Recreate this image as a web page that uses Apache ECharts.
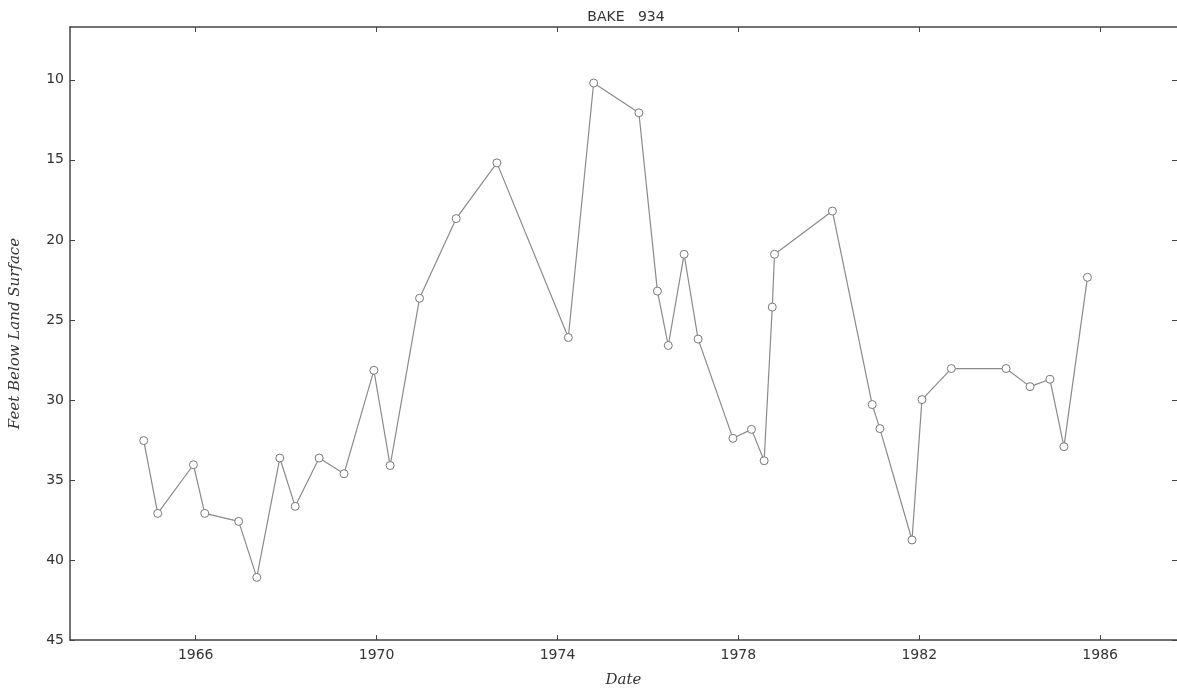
<!DOCTYPE html>
<html>
<head>
<meta charset="utf-8">
<title>BAKE 934</title>
<script src="https://cdn.jsdelivr.net/npm/echarts@6/dist/echarts.min.js"></script>
<style>
  html, body { margin: 0; padding: 0; background: #fff; }
  #chart { width: 1177px; height: 698px; }
</style>
</head>
<body>
<div id="chart"></div>
<script>
// decimal years of each measurement
const dates = [1964.85, 1965.16, 1965.95, 1966.2, 1966.95, 1967.35, 1967.86, 1968.2, 1968.73, 1969.28,
  1969.94, 1970.3, 1970.95, 1971.76, 1972.66, 1974.24, 1974.8, 1975.8, 1976.21, 1976.45,
  1976.8, 1977.11, 1977.88, 1978.29, 1978.57, 1978.75, 1978.8, 1980.08, 1980.96, 1981.13,
  1981.84, 1982.06, 1982.71, 1983.92, 1984.45, 1984.89, 1985.2, 1985.72]
// feet below land surface
const depths = [32.54, 37.09, 34.05, 37.09, 37.59, 41.09, 33.63, 36.65, 33.63, 34.61,
  28.15, 34.1, 23.65, 18.67, 15.19, 26.1, 10.2, 12.06, 23.2, 26.6,
  20.9, 26.2, 32.4, 31.84, 33.8, 24.2, 20.9, 18.2, 30.29, 31.79,
  38.75, 29.98, 28.04, 28.04, 29.17, 28.71, 32.92, 22.34]
const yearTicks = [1966, 1970, 1974, 1978, 1982, 1986]
const depthTicks = [10, 15, 20, 25, 30, 35, 40, 45]

const axisColor = '#444'
const labelFont = { color: '#333', fontSize: 14, fontFamily: 'DejaVu Sans' }
const nameFont = { color: '#333', fontSize: 15, fontStyle: 'italic', fontFamily: 'DejaVu Serif' }

const chart = echarts.init(document.getElementById('chart'))
const option = {
  animation: false,
  title: {
    text: 'BAKE   934',
    left: 621,
    textAlign: 'center',
    top: 5,
    textStyle: { color: '#333', fontSize: 14, fontWeight: 'normal', fontFamily: 'DejaVu Sans' }
  },
  grid: { left: 66, right: 0, top: 27, bottom: 58 },
  xAxis: [{
    type: 'value',
    min: 1963.22,
    max: 1987.7,
    name: 'Date',
    nameLocation: 'middle',
    nameGap: 33,
    nameTextStyle: nameFont,
    splitLine: { show: false },
    axisLine: { lineStyle: { color: axisColor, width: 1.5 } },
    axisTick: { inside: true, length: 5, customValues: yearTicks, lineStyle: { color: axisColor } },
    axisLabel: { customValues: yearTicks, margin: 8, formatter: v => String(v), ...labelFont }
  }, {
    type: 'value',
    position: 'top',
    min: 1963.22,
    max: 1987.7,
    splitLine: { show: false },
    axisLine: { lineStyle: { color: axisColor, width: 1.5 } },
    axisTick: { inside: true, length: 5, customValues: yearTicks, lineStyle: { color: axisColor } },
    axisLabel: { show: false }
  }],
  yAxis: [{
    type: 'value',
    inverse: true,
    min: 6.7,
    max: 45,
    name: 'Feet Below Land Surface',
    nameLocation: 'middle',
    nameGap: 47,
    nameTextStyle: nameFont,
    splitLine: { show: false },
    axisLine: { show: true, lineStyle: { color: axisColor, width: 1.5 } },
    axisTick: { show: true, inside: true, length: 5, customValues: depthTicks, lineStyle: { color: axisColor } },
    axisLabel: { customValues: depthTicks, margin: 6, formatter: v => String(v), ...labelFont }
  }, {
    type: 'value',
    position: 'right',
    inverse: true,
    min: 6.7,
    max: 45,
    splitLine: { show: false },
    axisLine: { show: false },
    axisTick: { show: true, inside: true, length: 5, customValues: depthTicks, lineStyle: { color: axisColor } },
    axisLabel: { show: false }
  }],
  series: [{
    type: 'line',
    data: dates.map((d, i) => [d, depths[i]]),
    symbol: 'circle',
    symbolSize: 8,
    lineStyle: { color: '#8a8a8a', width: 1.2 },
    itemStyle: { color: '#fff', borderColor: '#777', borderWidth: 1 }
  }]
}
chart.setOption(option)
window.addEventListener('resize', () => chart.resize())
</script>
</body>
</html>
